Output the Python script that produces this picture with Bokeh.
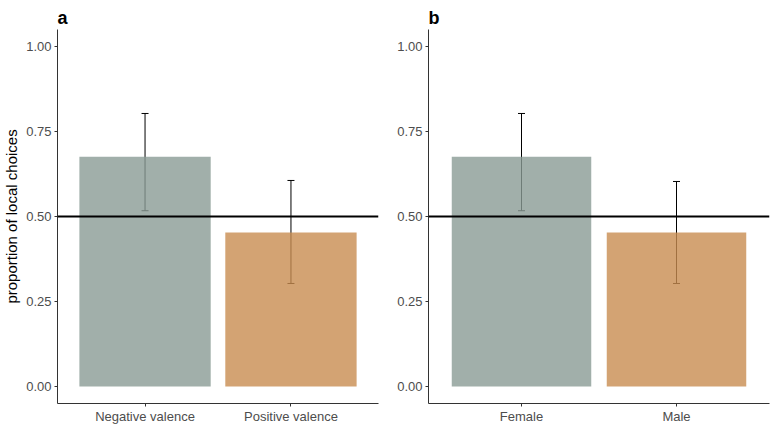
from bokeh.models import ColumnDataSource, Whisker, TeeHead, Span, FixedTicker, Range1d, FactorRange
from bokeh.plotting import figure
from bokeh.layouts import row
from bokeh.embed import file_html
from bokeh.resources import INLINE

# panel a
valence = ["Negative valence", "Positive valence"]
valence_prop = [0.676, 0.453]
valence_lower = [0.517, 0.303]
valence_upper = [0.803, 0.606]

# panel b
sex = ["Female", "Male"]
sex_prop = [0.676, 0.453]
sex_lower = [0.517, 0.303]
sex_upper = [0.803, 0.603]

bar_colors = ["#8A9B95", "#C88C50"]
y_ticks = [0.0, 0.25, 0.5, 0.75, 1.0]
y_tick_labels = {0.0: "0.00", 0.25: "0.25", 0.5: "0.50", 0.75: "0.75", 1.0: "1.00"}
chance = 0.5

FONT = "Liberation Sans"


def make_panel(letter, cats, prop, lower, upper, width, border_left, border_right, ylabel=None):
    p = figure(width=width, height=428, x_range=FactorRange(*cats, factor_padding=0.0),
               y_range=Range1d(-0.05, 1.05), output_backend="svg", toolbar_location=None,
               min_border_left=border_left, min_border_right=border_right,
               min_border_top=29, min_border_bottom=25)
    # ggplot style expansion: 0.6 of a category beyond the outer centres
    p.x_range.range_padding_units = "absolute"
    p.x_range.range_padding = 0.1
    src = ColumnDataSource(dict(x=cats, top=prop, lo=lower, hi=upper, color=bar_colors))

    w = Whisker(base="x", upper="hi", lower="lo", source=src, level="underlay",
                line_color="black", line_width=1,
                upper_head=TeeHead(size=7, line_color="black", line_width=1),
                lower_head=TeeHead(size=7, line_color="black", line_width=1))
    p.add_layout(w)
    p.vbar(x="x", top="top", bottom=0, width=0.9, fill_color="color", fill_alpha=0.8,
           line_color=None, source=src)

    p.add_layout(Span(location=chance, dimension="width", line_color="black", line_width=2,
                      level="overlay"))

    p.title.text = letter
    p.title.text_font = FONT
    p.title.text_font_size = "18px"
    p.title.text_font_style = "bold"
    p.title.text_color = "black"
    p.title.align = "left"
    p.title.vertical_align = "top"
    p.title.offset = 0
    p.title.standoff = 0

    p.xgrid.visible = False
    p.ygrid.visible = False
    p.outline_line_color = None

    p.yaxis.ticker = FixedTicker(ticks=y_ticks)
    p.yaxis.major_label_overrides = y_tick_labels
    for ax in (p.xaxis, p.yaxis):
        ax.axis_line_color = "#333333"
        ax.axis_line_width = 1
        ax.major_tick_line_color = "#333333"
        ax.major_tick_out = 3
        ax.major_tick_in = 0
        ax.minor_tick_line_color = None
        ax.major_label_text_font = FONT
        ax.major_label_text_font_size = "13px"
        ax.major_label_text_color = "#4D4D4D"
        ax.major_label_standoff = 3
    p.xaxis.major_label_standoff = 2
    if ylabel:
        p.yaxis.axis_label = ylabel
        p.yaxis.axis_label_text_font = FONT
        p.yaxis.axis_label_text_font_size = "15px"
        p.yaxis.axis_label_text_font_style = "normal"
        p.yaxis.axis_label_text_color = "black"
        p.yaxis.axis_label_standoff = 3
    return p


pa = make_panel("a", valence, valence_prop, valence_lower, valence_upper, 383, 57, 5,
                ylabel="proportion of local choices")
pb = make_panel("b", sex, sex_prop, sex_lower, sex_upper, 390, 45, 4)

layout = row(pa, pb)
open("out.html", "w").write(file_html(layout, INLINE))
